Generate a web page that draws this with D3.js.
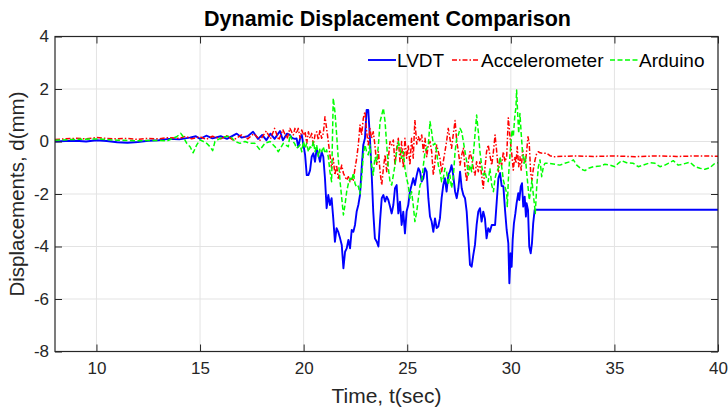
<!DOCTYPE html>
<html>
<head>
<meta charset="utf-8">
<script src="https://cdn.jsdelivr.net/npm/d3@7"></script>
<style>
  body { margin: 0; background: #fff; }
  text { font-family: Arial, "Liberation Sans", sans-serif; }
</style>
</head>
<body>
<div class="graph"></div>
<script>
// series names + tick labels
var seriesNames = ['LVDT', 'Accelerometer', 'Arduino'];
var xTicks = [10, 15, 20, 25, 30, 35, 40];
var yTicks = [-8, -6, -4, -2, 0, 2, 4];

// quiet part before the shaking, [time, disp]
var lvdtEarly = [[8,0],[8.5,0.02],[9,0.03],[9.5,0],[10,0.05],[10.5,0.02],[11,-0.03],[11.5,-0.05],[12,-0.02],[12.5,0.03],
  [13,0.05],[13.5,0.1],[14,0.08],[14.5,0.15],[14.8,0.2],[15,0.1],[15.3,0.22],[15.6,0.12],[16,0.2],[16.3,0.1],[16.77,0.3],
  [17,0.15],[17.3,0.2],[17.56,0.37],[17.8,0.1],[18,0.25],[18.2,0.05],[18.4,0.3],[18.6,0.1],[18.86,0.4],[19.0,0.05],[19.2,0.3]];
var accelEarly = [[8,0.08],[8.5,0.1],[9,0.12],[9.5,0.1],[10,0.15],[10.5,0.12],[11,0.1],[11.5,0.12],[12,0.08],[12.5,0.12],
  [13,0.1],[13.5,0.15],[14,0.12],[14.3,0.2],[14.6,0.1],[15,0.18],[15.3,0.08],[15.6,0.2],[16,0.1],[16.3,0.22],[16.6,0.05],
  [17,0.25],[17.3,0.1],[17.6,0.3],[17.9,0.05],[18.2,0.4],[18.4,0.1],[18.6,0.5],[18.8,0.05],[19.0,0.45],[19.2,0.1]];
var arduinoEarly = [[8,0.05],[9,0.08],[10,0.1],[11,0.05],[12,0.03],[13,0.04],[13.4,0.02],[13.87,0.18],[14.07,0.31],[14.19,0.18],
  [14.36,-0.07],[14.52,-0.2],[14.67,-0.43],[14.84,-0.13],[15.0,0.06],[15.16,0],[15.32,-0.07],[15.48,-0.2],[15.61,-0.35],
  [15.72,0],[15.96,0.12],[16.2,0.18],[16.45,0.21],[16.69,0],[16.93,-0.07],[17.17,0],[17.41,-0.07],[17.65,-0.07],[17.89,-0.32],
  [18.13,-0.07],[18.38,0],[18.62,-0.2],[18.78,-0.39],[19.02,-0.07],[19.26,-0.2]];

// shaking window, sampled times shared by the three records
var tActive = [19.34,19.42,19.50,19.58,19.66,19.74,19.83,19.91,19.99,20.07,20.15,20.23,20.31,20.39,20.47,20.55,20.63,20.71,20.79,20.87,
  20.95,21.03,21.11,21.19,21.27,21.35,21.43,21.51,21.59,21.67,21.76,21.84,21.92,22.00,22.08,22.16,22.24,22.32,22.40,22.48,
  22.56,22.64,22.72,22.80,22.88,22.96,23.04,23.12,23.20,23.28,23.36,23.44,23.53,23.61,23.69,23.77,23.85,23.93,24.01,24.09,
  24.17,24.25,24.33,24.41,24.49,24.57,24.65,24.73,24.81,24.89,24.97,25.05,25.13,25.21,25.29,25.37,25.46,25.54,25.62,25.70,
  25.78,25.86,25.94,26.02,26.10,26.18,26.26,26.34,26.42,26.50,26.58,26.66,26.74,26.82,26.90,26.98,27.06,27.14,27.22,27.31,
  27.39,27.47,27.55,27.63,27.71,27.79,27.87,27.95,28.03,28.11,28.19,28.27,28.35,28.43,28.51,28.59,28.67,28.75,28.83,28.91,
  28.99,29.08,29.16,29.24,29.32,29.40,29.48,29.56,29.64,29.72];
var lvdtActive = [0.25,0.15,0.12,0.1,0.12,-0.2,0.12,0.25,-0.13,-0.5,-1.28,-1.28,-1.1,-0.58,-0.45,-0.77,-0.26,-0.5,-0.77,-0.39,
  -0.58,-1.4,-2.54,-2.04,-2.42,-2.16,-2.93,-3.82,-3.3,-3.44,-3.69,-3.94,-4.83,-4.2,-4.07,-3.75,-4.07,-3.37,-3.44,-3.18,
  -2.67,-2.42,-2.04,-1.02,-0.13,0.12,1.2,1.2,0.12,-1.15,-2.67,-3.69,-3.82,-4.0,-3.0,-2.16,-2.04,-2.29,-2.1,-2.23,
  -2.48,-2.74,-2.42,-1.78,-1.66,-2.74,-2.29,-3.18,-2.67,-3.5,-2.67,-2.42,-1.91,-1.66,-1.4,-1.66,-1.28,-1.02,-1.15,-1.53,
  -1.4,-1.02,-1.15,-2.16,-2.86,-3.05,-3.44,-2.93,-3.3,-3.24,-2.93,-2.16,-1.66,-1.4,-1.91,-1.28,-1.15,-0.9,-1.28,-1.91,
  -2.16,-1.78,-1.15,-1.78,-2.04,-2.16,-2.67,-3.69,-4.7,-4.77,-4.32,-3.94,-3.18,-2.67,-2.54,-3.05,-2.67,-2.93,-3.69,-3.3,
  -3.44,-3.18,-3.18,-3.18,-2.29,-1.4,-1.2,-1.7,-1.7,-2.6];
var accelActive = [0.5,0.37,0.25,0.5,0.31,0.5,0.12,0.44,0.25,0.37,-0.07,0.37,0.12,0.31,-0.13,0.25,0.37,0.06,0.44,0.12,
  0.31,0.94,0.5,0,-0.51,-1.02,-0.64,-1.28,-0.9,-1.4,-1.15,-0.9,-1.21,-1.34,-1.47,-1.34,-1.53,-1.4,-1.47,-1.02,
  -0.64,-0.13,0.63,0.25,0.88,1.14,0.37,-0.13,0.5,0.12,0.37,-0.13,-0.9,-0.39,-1.15,-1.66,-1.02,-0.51,-1.15,-0.64,
  0,-0.13,0.06,-0.9,-0.26,0.12,-0.77,0,-1.02,0.12,-0.64,-0.13,-0.9,0.12,-0.64,0.82,-0.1,0.18,0,0.25,
  -0.39,0.12,-0.58,-0.13,0,-0.39,-1.28,-0.77,-0.13,-0.39,-0.64,-1.15,-0.77,-0.39,0,0.5,0.12,-0.26,0.25,0.8,
  0,-0.39,-0.9,-0.51,-0.26,-1.02,-1.53,-0.77,-0.39,-0.64,-1.02,-1.28,-0.77,-1.15,-0.77,-1.28,-1.78,-1.02,-0.39,-0.13,
  -0.51,-0.9,-0.39,0.25,-0.39,-1.15,-0.64,-0.9,-0.39,-0.77];
var arduinoActive = [0.25,0.1,0,-0.1,-0.26,-0.2,-0.13,-0.39,0,-0.26,-0.07,-0.39,-0.2,-0.26,0,-0.39,-0.13,-0.58,-0.26,-0.39,
  -0.2,-0.45,-0.32,-0.58,-1.15,-1.53,1.65,1.14,0.3,-0.64,-1.53,-2.16,-2.8,-2.4,-1.9,-1.6,-1.4,-1.5,-1.2,-1.6,
  -1.75,-1.7,-2.0,-1.4,-0.51,-0.13,-0.39,-0.51,-0.13,-0.9,-1.28,-0.6,-0.77,-0.13,0.76,1.01,1.27,0.76,-0.13,-1.02,
  -1.53,-1.66,-1.28,-0.9,-0.39,0,-0.26,-0.64,-0.39,-1.02,-1.4,-1.66,-2.16,-1.91,-2.42,-3.05,-2.67,-2.16,-1.66,-1.53,
  -0.9,-0.39,-0.26,-0.13,0.76,0.37,-0.13,-0.07,-0.39,-0.9,-1.15,-1.53,-1.4,-1.02,-1.15,-1.66,-1.28,-1.78,-1.4,-0.39,
  0.12,0.25,0.5,0.37,0,-0.39,-0.77,-1.28,-0.9,-1.15,-0.51,0.25,1.01,0.37,-0.39,-0.9,-1.28,-1.15,-1.4,-1.53,
  -1.02,-1.66,-1.91,-1.4,-1.15,-1.02,-0.58,-0.96,-1.47,-1.72];

// end of shaking + residual, [time, disp]
var lvdtLate = [[29.80,-3.37],[29.88,-3.88],[29.93,-5.4],[29.99,-4.26],[30.04,-4.77],[30.09,-3.75],[30.15,-3.12],[30.22,-2.74],
  [30.28,-2.35],[30.36,-1.97],[30.41,-2.23],[30.48,-1.72],[30.54,-1.59],[30.60,-2.48],[30.67,-2.1],[30.73,-2.86],[30.76,-2.35],
  [30.83,-2.61],[30.89,-4.0],[30.96,-4.26],[31.02,-3.88],[31.08,-3.12],[31.15,-2.61],[31.21,-2.6],[40,-2.6]];
var accelLate = [[29.80,-0.58],[29.88,0.9],[29.93,0.44],[29.99,-0.07],[30.06,-0.58],[30.12,-1.09],[30.19,-0.58],[30.25,-0.83],
  [30.31,-0.2],[30.38,-0.96],[30.44,-0.58],[30.50,-1.09],[30.57,-0.32],[30.64,-0.7],[30.70,-0.83],[30.77,-0.32],[30.83,0.18],
  [30.89,-0.07],[30.96,-1.21],[31.02,-1.47],[31.08,-1.09],[31.17,-0.7],[31.25,-0.45],[31.33,-0.39],[31.41,-0.43],[31.57,-0.45],
  [31.73,-0.45],[31.89,-0.54],[32.05,-0.58],[33,-0.55],[34,-0.57],[35,-0.55],[36,-0.58],[37,-0.55],[38,-0.57],[39,-0.55],[40,-0.56]];
var arduinoLate = [[29.80,-1.97],[29.83,-2.48],[29.88,-1.47],[29.93,-0.83],[29.99,-0.2],[30.06,0.44],[30.12,0.18],[30.19,0.94],
  [30.25,1.33],[30.28,1.96],[30.33,1.07],[30.38,0.31],[30.44,1.07],[30.50,0.31],[30.57,-0.45],[30.64,-0.83],[30.70,-0.58],
  [30.77,-1.21],[30.83,-1.72],[30.89,-2.23],[30.96,-1.85],[31.02,-1.47],[31.08,-1.97],[31.15,-2.48],[31.18,-2.74],[31.25,-1.72],
  [31.33,-0.96],[31.41,-0.7],[31.49,-1.34],[31.57,-0.96],[31.65,-0.83],[31.81,-0.83],[32.05,-0.86],[32.37,-0.9],[32.61,-0.83],
  [32.86,-0.77],[33.02,-0.7],[33.18,-0.9],[33.42,-1.06],[33.58,-1.11],[33.74,-1.02],[33.98,-0.96],[34.30,-0.93],[34.54,-0.87],
  [34.79,-0.9],[35.03,-0.96],[35.19,-0.83],[35.35,-0.73],[35.59,-0.81],[35.91,-0.83],[36.15,-0.96],[36.39,-0.9],[36.72,-0.81],
  [36.96,-0.83],[37.20,-0.96],[37.44,-0.9],[37.60,-0.83],[37.84,-0.73],[38.08,-0.9],[38.32,-0.86],[38.65,-0.79],[38.89,-0.96],
  [39.13,-1.02],[39.37,-1.06],[39.61,-1.0],[39.85,-0.83],[40,-0.81]];

var width = 728,
    height = 408;
var plot = {left: 55, right: 718, top: 36.5, bottom: 351.5};
var axisColor = '#262626';

function joinRecord(early, active, late) {
  return early.concat(tActive.map((t, i) => [t, active[i]])).concat(late);
}

var series = [
  {name: seriesNames[0], color: '#0000ff', dash: null, widthPx: 1.9, points: joinRecord(lvdtEarly, lvdtActive, lvdtLate)},
  {name: seriesNames[1], color: '#ff0000', dash: '5,2,1.5,2', widthPx: 1.5, points: joinRecord(accelEarly, accelActive, accelLate)},
  {name: seriesNames[2], color: '#00ff00', dash: '5,2.5', widthPx: 1.5, points: joinRecord(arduinoEarly, arduinoActive, arduinoLate)}
];

var svg = d3.select('.graph')
  .append('svg')
  .attr('width', width)
  .attr('height', height)
  .style('display', 'block');

var xScale = d3.scaleLinear()
  .domain([8, 40])
  .range([plot.left, plot.right]);

var yScale = d3.scaleLinear()
  .domain([-8, 4])
  .range([plot.bottom, plot.top]);

// grid
var grid = svg.append('g').attr('class', 'grid');
grid.selectAll('.vgrid')
  .data(xTicks)
  .enter()
  .append('line')
  .attr('x1', d => xScale(d)).attr('x2', d => xScale(d))
  .attr('y1', plot.top).attr('y2', plot.bottom)
  .attr('stroke', '#e3e3e3')
  .attr('stroke-width', 1);
grid.selectAll('.hgrid')
  .data(yTicks)
  .enter()
  .append('line')
  .attr('x1', plot.left).attr('x2', plot.right)
  .attr('y1', d => yScale(d)).attr('y2', d => yScale(d))
  .attr('stroke', '#e3e3e3')
  .attr('stroke-width', 1);

// data lines
svg.append('clipPath')
  .attr('id', 'plot-clip')
  .append('rect')
  .attr('x', plot.left).attr('y', plot.top)
  .attr('width', plot.right - plot.left)
  .attr('height', plot.bottom - plot.top);

var line = d3.line()
  .x(d => xScale(d[0]))
  .y(d => yScale(d[1]));

svg.append('g')
  .attr('clip-path', 'url(#plot-clip)')
  .selectAll('path')
  .data(series)
  .enter()
  .append('path')
  .attr('d', d => line(d.points))
  .attr('fill', 'none')
  .attr('stroke', d => d.color)
  .attr('stroke-width', d => d.widthPx)
  .attr('stroke-dasharray', d => d.dash)
  .attr('stroke-linejoin', 'round');

// axes, ticks pointing inward like matlab
var plainNum = d => String(d);  // hyphen, not the unicode minus

var xAxis = d3.axisBottom(xScale)
  .tickValues(xTicks)
  .tickFormat(plainNum)
  .tickSizeInner(-7)
  .tickSizeOuter(0)
  .tickPadding(10);
var yAxis = d3.axisLeft(yScale)
  .tickValues(yTicks)
  .tickFormat(plainNum)
  .tickSizeInner(-7)
  .tickSizeOuter(0)
  .tickPadding(6);

var xAxisGroup = svg.append('g')
  .attr('transform', 'translate(0,' + plot.bottom + ')')
  .call(xAxis);
var yAxisGroup = svg.append('g')
  .attr('transform', 'translate(' + plot.left + ',0)')
  .call(yAxis);

svg.append('g')
  .attr('transform', 'translate(0,' + plot.top + ')')
  .call(d3.axisTop(xScale).tickValues(xTicks).tickSizeInner(-7).tickSizeOuter(0).tickFormat(''));
svg.append('g')
  .attr('transform', 'translate(' + plot.right + ',0)')
  .call(d3.axisRight(yScale).tickValues(yTicks).tickSizeInner(-7).tickSizeOuter(0).tickFormat(''));

svg.selectAll('.domain').remove();
svg.selectAll('.tick line').attr('stroke', axisColor);
svg.selectAll('.tick text')
  .attr('fill', axisColor)
  .style('font-size', '17px');

svg.append('rect')
  .attr('x', plot.left).attr('y', plot.top)
  .attr('width', plot.right - plot.left)
  .attr('height', plot.bottom - plot.top)
  .attr('fill', 'none')
  .attr('stroke', axisColor)
  .attr('stroke-width', 1.2);

// labels
svg.append('text')
  .text('Dynamic Displacement Comparison')
  .attr('x', (plot.left + plot.right) / 2 + 1)
  .attr('y', 26)
  .attr('text-anchor', 'middle')
  .style('font-size', '21.5px')
  .style('font-weight', 'bold')
  .attr('fill', '#000');

svg.append('text')
  .text('Time, t(sec)')
  .attr('x', (plot.left + plot.right) / 2)
  .attr('y', 403)
  .attr('text-anchor', 'middle')
  .style('font-size', '21px')
  .attr('fill', axisColor);

svg.append('text')
  .text('Displacements, d(mm)')
  .attr('x', -(plot.top + plot.bottom) / 2)
  .attr('y', 24)
  .attr('transform', 'rotate(-90)')
  .attr('text-anchor', 'middle')
  .style('font-size', '20.5px')
  .attr('fill', axisColor);

// legend, one row top right
var legendX = [368, 452, 610];
var legend = svg.append('g');
var item = legend.selectAll('g')
  .data(series)
  .enter()
  .append('g')
  .attr('transform', (d, i) => 'translate(' + legendX[i] + ',60)');
item.append('line')
  .attr('x1', 0).attr('x2', 28)
  .attr('stroke', d => d.color)
  .attr('stroke-width', d => d.widthPx)
  .attr('stroke-dasharray', d => d.dash);
item.append('text')
  .text(d => d.name)
  .attr('x', 29)
  .attr('y', 7)
  .style('font-size', '19px')
  .attr('fill', '#000');
</script>
</body>
</html>
